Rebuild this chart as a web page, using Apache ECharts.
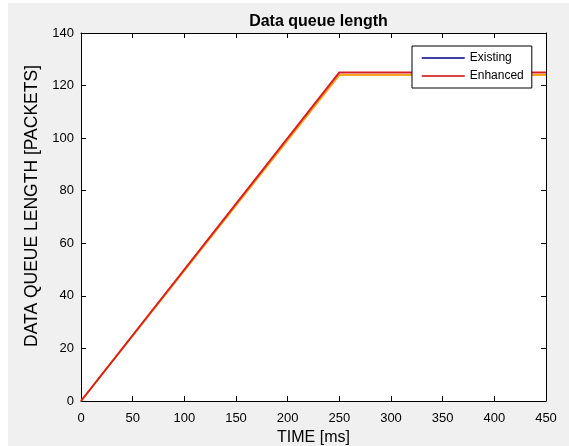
<!DOCTYPE html>
<html>
<head>
<meta charset="utf-8">
<script src="https://cdn.jsdelivr.net/npm/echarts@6/dist/echarts.min.js"></script>
<style>
html,body{margin:0;padding:0;background:#ffffff;width:569px;height:446px;overflow:hidden;}
#c{position:absolute;left:8px;top:3px;width:561px;height:443px;background:#f0f0f0;}
</style>
</head>
<body>
<div id="c"></div>
<script>
const titleText = 'Data queue length';
const xName = 'TIME [ms]';
const yName = 'DATA QUEUE LENGTH [PACKETS]';
const seriesNames = ['Existing', 'Enhanced'];
const existingData = [[0, 0], [250, 124], [450, 124]];
const enhancedData = [[0, 0], [250, 125], [450, 125]];
const xTicks = [0, 50, 100, 150, 200, 250, 300, 350, 400, 450];
const yTicks = [0, 20, 40, 60, 80, 100, 120, 140];

const FONT = 'Liberation Sans, Arial, Helvetica, sans-serif';
const chart = echarts.init(document.getElementById('c'));
const gridL = 73, gridT = 30, gridW = 465, gridH = 368;

function tick() { return {show: true, inside: true, length: 5, lineStyle: {color: '#000', width: 1}}; }
function line() { return {show: true, onZero: false, lineStyle: {color: '#000', width: 1}}; }

chart.setOption({
  backgroundColor: '#f0f0f0',
  animation: false,
  title: {
    text: titleText,
    left: gridL + gridW / 2, top: 6, textAlign: 'center',
    textStyle: {fontFamily: FONT, fontSize: 16, fontWeight: 'bold', color: '#000'}
  },
  legend: {
    orient: 'vertical',
    left: 404, top: 43,
    padding: [6, 8, 6, 9],
    itemWidth: 43, itemHeight: 14, itemGap: 6,
    backgroundColor: '#fff',
    borderColor: '#000', borderWidth: 1, borderRadius: 0,
    textStyle: {fontFamily: FONT, fontSize: 12, color: '#000'},
    data: [
      {name: seriesNames[0], itemStyle: {color: 'transparent', borderWidth: 0, opacity: 0},
        lineStyle: {color: '#000080', width: 1.5, opacity: 1}},
      {name: seriesNames[1], itemStyle: {color: 'transparent', borderWidth: 0, opacity: 0},
        lineStyle: {color: '#cc0000', width: 1.5, opacity: 1}}
    ]
  },
  grid: {left: gridL, top: gridT, width: gridW, height: gridH, show: true, backgroundColor: '#fff',
    borderWidth: 0, containLabel: false, outerBoundsMode: 'none'},
  xAxis: [
    {
      type: 'value', min: 0, max: 450, interval: 50, position: 'bottom',
      axisLine: line(), axisTick: tick(), splitLine: {show: false},
      name: xName, nameLocation: 'middle', nameGap: 28,
      nameTextStyle: {fontFamily: FONT, fontSize: 16, color: '#000'},
      axisLabel: {fontFamily: FONT, fontSize: 13, color: '#000', margin: 11,
        formatter: v => xTicks.indexOf(v) >= 0 ? String(v) : ''}
    },
    {
      type: 'value', min: 0, max: 450, interval: 50, position: 'top',
      axisLine: line(), axisTick: tick(), splitLine: {show: false},
      axisLabel: {show: false}
    }
  ],
  yAxis: [
    {
      type: 'value', min: 0, max: 140, interval: 20, position: 'left',
      axisLine: line(), axisTick: tick(), splitLine: {show: false},
      name: yName, nameLocation: 'middle', nameGap: 30,
      nameTextStyle: {fontFamily: FONT, fontSize: 17.5, color: '#000', padding: [0, 0, 0, 22]},
      axisLabel: {fontFamily: FONT, fontSize: 13, color: '#000', margin: 7,
        formatter: v => yTicks.indexOf(v) >= 0 ? String(v) : ''}
    },
    {
      type: 'value', min: 0, max: 140, interval: 20, position: 'right',
      axisLine: line(), axisTick: tick(), splitLine: {show: false},
      axisLabel: {show: false}
    }
  ],
  series: [
    {name: seriesNames[0], type: 'line', data: existingData, symbol: 'none', showSymbol: false,
      lineStyle: {color: '#f5a623', width: 2}, itemStyle: {color: '#f5a623'}, z: 2},
    {name: seriesNames[1], type: 'line', data: enhancedData, symbol: 'none', showSymbol: false,
      lineStyle: {color: '#d81e1e', width: 2}, itemStyle: {color: '#d81e1e'}, z: 3}
  ]
});
</script>
</body>
</html>
